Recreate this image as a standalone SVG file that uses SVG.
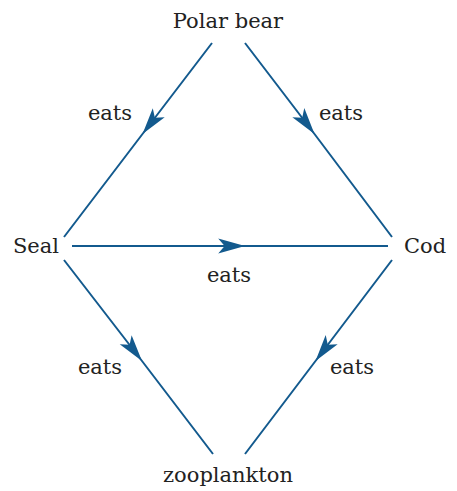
<svg xmlns="http://www.w3.org/2000/svg" width="457" height="491" viewBox="0 0 457 491">
<style>
text{font-family:"DejaVu Serif","Liberation Serif",serif;fill:#222;font-size:21px}
.c{fill:none;stroke:#135a8e;stroke-width:2}
</style>
<defs>
<marker id="ah" markerUnits="userSpaceOnUse" markerWidth="30" markerHeight="20" viewBox="-26 -8 28 16" refX="0" refY="0" orient="auto">
<path d="M0,0 L-25,-7 L-19,0 L-25,7 Z" fill="#135a8e"/>
</marker>
</defs>
<rect width="457" height="491" fill="#fff"/>
<g id="connectors">
<path class="c" d="M212,43 L142.5,134 L64,237" marker-mid="url(#ah)"/>
<path class="c" d="M245,43 L314.5,134 L392,237" marker-mid="url(#ah)"/>
<path class="c" d="M72,246 L245,246 L388,246" marker-mid="url(#ah)"/>
<path class="c" d="M64,260 L142,361 L213,454" marker-mid="url(#ah)"/>
<path class="c" d="M392,260 L315.5,361 L245,454" marker-mid="url(#ah)"/>
<text x="110" y="120" text-anchor="middle">eats</text>
<text x="341" y="120" text-anchor="middle">eats</text>
<text x="229" y="282" text-anchor="middle">eats</text>
<text x="100" y="374" text-anchor="middle">eats</text>
<text x="352" y="374" text-anchor="middle">eats</text>
</g>
<g id="polar-bear"><text x="228" y="28" text-anchor="middle">Polar bear</text></g>
<g id="seal"><text x="36" y="253" text-anchor="middle">Seal</text></g>
<g id="cod"><text x="425" y="253" text-anchor="middle">Cod</text></g>
<g id="zooplankton"><text x="228" y="482" text-anchor="middle">zooplankton</text></g>
</svg>
